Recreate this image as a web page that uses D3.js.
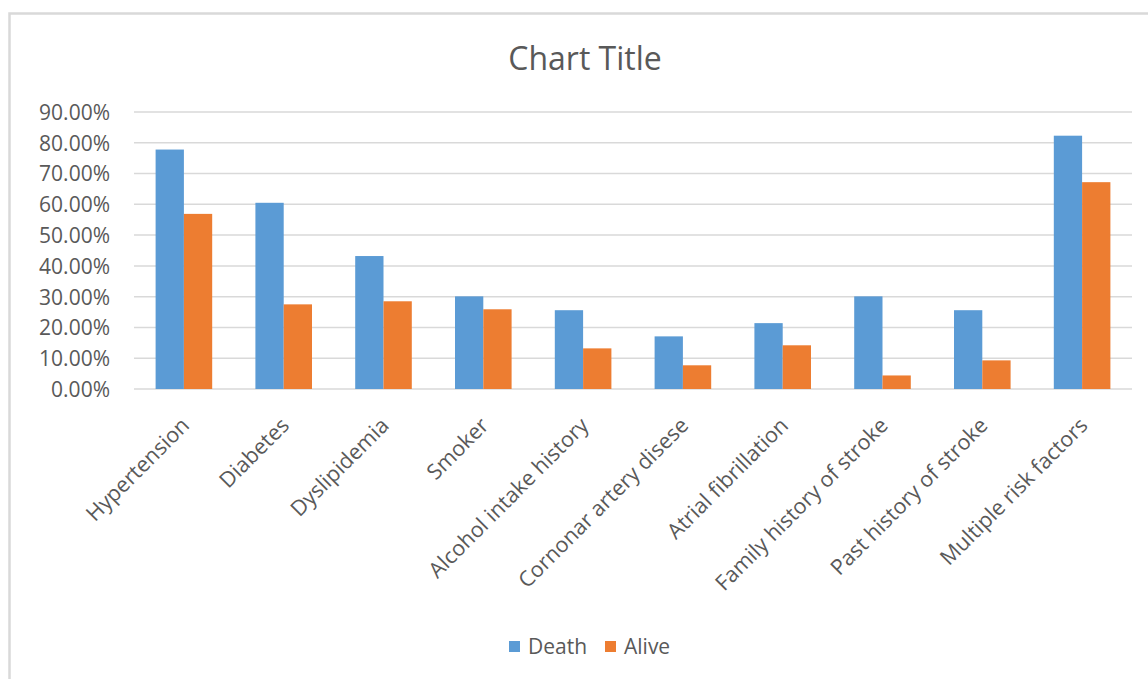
<!DOCTYPE html>
<html>
<head>
<meta charset="utf-8">
<script src="https://cdn.jsdelivr.net/npm/d3@7"></script>
<style>
  body { margin: 0; background: #fff; }
  text { font-family: "Open Sans", sans-serif; fill: #595959; }
</style>
</head>
<body>
<div id="chart"></div>
<script>
"use strict";

var categories = ["Hypertension", "Diabetes", "Dyslipidemia", "Smoker", "Alcohol intake history",
  "Cornonar artery disese", "Atrial fibrillation", "Family history of stroke",
  "Past history of stroke", "Multiple risk factors"];
var seriesNames = ["Death", "Alive"];
var death = [0.778, 0.605, 0.432, 0.301, 0.256, 0.171, 0.214, 0.301, 0.256, 0.823];
var alive = [0.569, 0.275, 0.285, 0.259, 0.132, 0.077, 0.142, 0.044, 0.093, 0.672];
var yTicks = [0, 0.1, 0.2, 0.3, 0.4, 0.5, 0.6, 0.7, 0.8, 0.9];
var colors = ["#5B9BD5", "#ED7D31"];

var w = 1148;
var h = 679;
var plotLeft = 134, plotRight = 1132, plotTop = 112, plotBottom = 389;

var svg = d3.select("#chart")
  .append("svg")
  .attr("width", w)
  .attr("height", h);

// chart area border
svg.append("rect")
  .attr("x", 9.5)
  .attr("y", 13.5)
  .attr("width", 1160)
  .attr("height", 700)
  .attr("fill", "#fff")
  .attr("stroke", "#d9d9d9")
  .attr("stroke-width", 2.5);

svg.append("text")
  .attr("x", 585)
  .attr("y", 70)
  .attr("text-anchor", "middle")
  .style("font-size", "32px")
  .text("Chart Title");

var y = d3.scaleLinear()
  .domain([0, 0.9])
  .range([plotBottom, plotTop]);

var x0 = d3.scaleBand()
  .domain(categories)
  .range([plotLeft, plotRight])
  .paddingInner(0.433)
  .paddingOuter(0.2165);

var x1 = d3.scaleBand()
  .domain(seriesNames)
  .range([0, x0.bandwidth()]);

// gridlines
svg.append("g")
  .selectAll("line.grid")
  .data(yTicks).enter()
  .append("line")
  .classed("grid", true)
  .attr("x1", plotLeft)
  .attr("x2", plotRight)
  .attr("y1", function(d) { return y(d); })
  .attr("y2", function(d) { return y(d); })
  .attr("stroke", "#d9d9d9")
  .attr("stroke-width", 1.5);

// y axis labels
var yAxis = d3.axisLeft(y)
  .tickValues(yTicks)
  .tickSize(0)
  .tickPadding(0)
  .tickFormat(function(d) { return (d * 100).toFixed(2) + "%"; });

var yg = svg.append("g")
  .attr("transform", "translate(110,0)")
  .call(yAxis);
yg.select(".domain").remove();
yg.selectAll("text")
  .style("font-size", "21px")
  .attr("fill", "#595959")
  .attr("dy", "0.35em");

// bars
var rows = categories.map(function(c, i) {
  return { cat: c, values: [death[i], alive[i]] };
});

var groups = svg.append("g")
  .selectAll("g.group")
  .data(rows).enter()
  .append("g")
  .classed("group", true)
  .attr("transform", function(d) { return "translate(" + x0(d.cat) + ",0)"; });

groups.selectAll("rect")
  .data(function(d) {
    return d.values.map(function(v, j) { return { key: seriesNames[j], value: v, idx: j }; });
  }).enter()
  .append("rect")
  .attr("x", function(d) { return x1(d.key); })
  .attr("width", x1.bandwidth())
  .attr("y", function(d) { return y(d.value); })
  .attr("height", function(d) { return y(0) - y(d.value); })
  .attr("fill", function(d) { return colors[d.idx]; });

// rotated category labels
svg.append("g")
  .selectAll("text.cat")
  .data(categories).enter()
  .append("text")
  .classed("cat", true)
  .attr("text-anchor", "end")
  .style("font-size", "21.5px")
  .attr("transform", function(d) {
    var cx = x0(d) + x0.bandwidth() / 2;
    return "translate(" + (cx - 4) + "," + 416 + ") rotate(-45)";
  })
  .attr("dy", "0.71em")
  .text(function(d) { return d; });

// legend
var legendItems = [
  { name: seriesNames[0], color: colors[0], x: 509 },
  { name: seriesNames[1], color: colors[1], x: 605 }
];
var legend = svg.append("g")
  .selectAll("g.legend")
  .data(legendItems).enter()
  .append("g")
  .classed("legend", true)
  .attr("transform", function(d) { return "translate(" + d.x + ",641)"; });

legend.append("rect")
  .attr("width", 11)
  .attr("height", 11)
  .attr("fill", function(d) { return d.color; });

legend.append("text")
  .attr("x", 19)
  .attr("y", 13)
  .style("font-size", "21px")
  .text(function(d) { return d.name; });
</script>
</body>
</html>
